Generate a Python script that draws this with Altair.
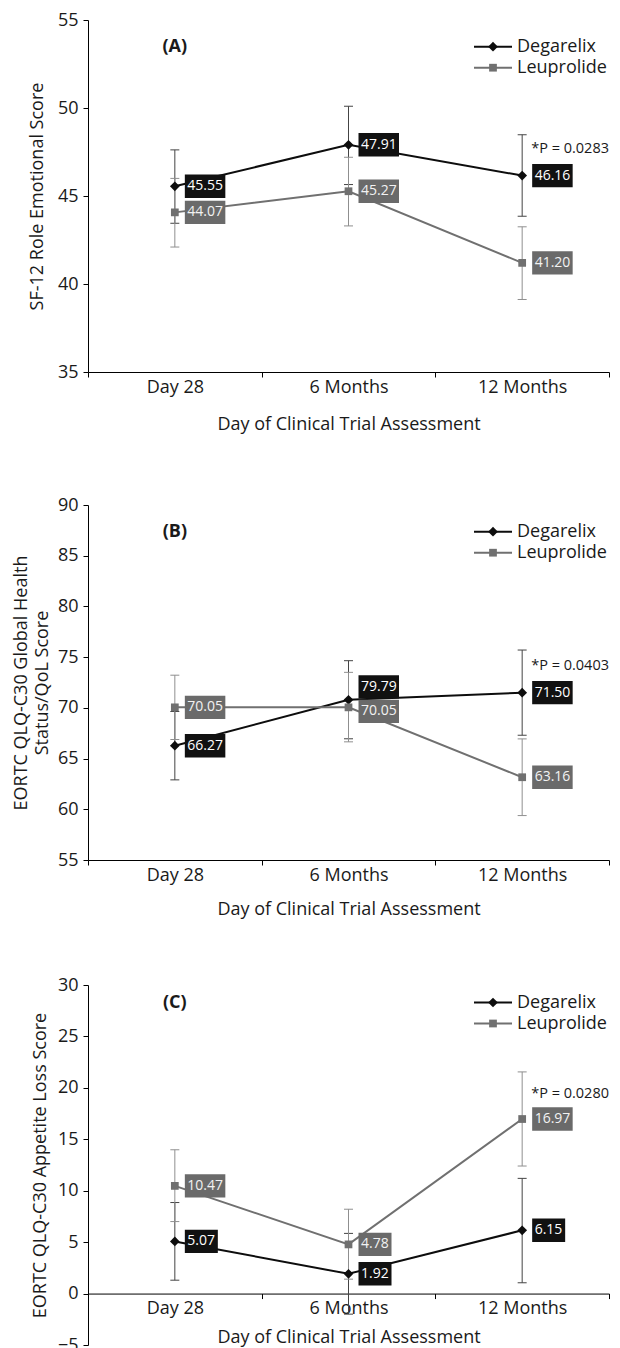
import altair as alt
import pandas as pd

FONT = "Open Sans"

categories = ["Day 28", "6 Months", "12 Months"]
series_names = ["Degarelix", "Leuprolide"]

# ---- Panel A : SF-12 Role Emotional Score
a_deg = [45.55, 47.91, 46.16]
a_deg_lo = [43.45, 45.65, 43.85]
a_deg_hi = [47.62, 50.10, 48.48]
a_deg_labels = ["45.55", "47.91", "46.16"]
a_leu = [44.07, 45.27, 41.20]
a_leu_lo = [42.10, 43.30, 39.12]
a_leu_hi = [46.00, 47.20, 43.25]
a_leu_labels = ["44.07", "45.27", "41.20"]
a_pvalue = "*P = 0.0283"
a_pvalue_at = 47.65

# ---- Panel B : EORTC QLQ-C30 Global Health Status/QoL Score
b_deg = [66.27, 70.79, 71.50]
b_deg_lo = [62.90, 66.95, 67.30]
b_deg_hi = [69.64, 74.65, 75.70]
b_deg_labels = ["66.27", "79.79", "71.50"]
b_leu = [70.05, 70.05, 63.16]
b_leu_lo = [66.88, 66.65, 59.38]
b_leu_hi = [73.22, 73.50, 66.94]
b_leu_labels = ["70.05", "70.05", "63.16"]
b_pvalue = "*P = 0.0403"
b_pvalue_at = 74.1

# ---- Panel C : EORTC QLQ-C30 Appetite Loss Score
c_deg = [5.07, 1.92, 6.15]
c_deg_lo = [1.30, -2.00, 1.05]
c_deg_hi = [8.85, 5.85, 11.20]
c_deg_labels = ["5.07", "1.92", "6.15"]
c_leu = [10.47, 4.78, 16.97]
c_leu_lo = [7.00, 1.40, 12.40]
c_leu_hi = [13.98, 8.20, 21.55]
c_leu_labels = ["10.47", "4.78", "16.97"]
c_pvalue = "*P = 0.0280"
c_pvalue_at = 19.4

# ---- styles
STYLE = {
    "Degarelix": dict(line="#0d0d0d", err="#444444", box="#111111", text="#ffffff",
                      shape="diamond", size=95),
    "Leuprolide": dict(line="#707070", err="#8f8f8f", box="#6a6a6a", text="#f2f2f2",
                       shape="square", size=60),
}
AXIS_COLOR = "#000000"
TEXT_COLOR = "#1a1a1a"
WIDTH = 521
# label box paths (1 unit = 50 px with size 10000)
BOX_PATHS = {"n4": "M0.2,-0.234H0.86V0.234H0.2Z", "n5": "M0.2,-0.234H1.01V0.234H0.2Z"}


def frame(deg, deg_lo, deg_hi, deg_lab, leu, leu_lo, leu_hi, leu_lab):
    rows = []
    for s, v, lo, hi, lab in [("Degarelix", deg, deg_lo, deg_hi, deg_lab),
                              ("Leuprolide", leu, leu_lo, leu_hi, leu_lab)]:
        for i, c in enumerate(categories):
            rows.append(dict(cat=c, idx=i, series=s, value=v[i], lo=lo[i], hi=hi[i], label=lab[i]))
    return pd.DataFrame(rows)


def panel(df, ymin, ymax, step, height, ytitle, title_x, letter, top_dy, pval, pval_at,
          xoffset=0, title_y=47, nudges=None):
    nudges = nudges or {}
    xscale = alt.Scale(type="band", domain=categories, paddingInner=0, paddingOuter=0)
    yscale = alt.Scale(domain=[ymin, ymax], nice=False, zero=False)
    xaxis = alt.Axis(title="Day of Clinical Trial Assessment", tickBand="extent", labelAngle=0,
                     grid=False, tickSize=5, labelPadding=1, offset=xoffset,
                     titleY=title_y, titleBaseline="middle")
    yaxis = alt.Axis(title=ytitle, values=list(range(ymin, ymax + 1, step)), grid=False,
                     tickSize=5, labelPadding=5, titleX=title_x, titleY=height / 2,
                     titleAngle=270, titleBaseline="middle", titleAlign="center",
                     titleLineHeight=21)

    def X():
        return alt.X("cat:N", scale=xscale, axis=xaxis, sort=categories)

    def Y(field):
        return alt.Y(field + ":Q", scale=yscale, axis=yaxis)

    base = alt.Chart(df)
    layers = []
    for s in series_names:
        st = STYLE[s]
        d = base.transform_filter(alt.datum.series == s)
        layers.append(d.mark_rule(strokeWidth=1, color=st["err"]).encode(
            x=X(), y=Y("lo"), y2="hi:Q"))
        for f in ["lo", "hi"]:
            layers.append(d.mark_point(shape="M-1,0H1", size=81, filled=False, strokeWidth=1,
                                       color=st["err"], opacity=1).encode(x=X(), y=Y(f)))
    for s in series_names:
        st = STYLE[s]
        d = base.transform_filter(alt.datum.series == s)
        layers.append(d.mark_line(strokeWidth=2, color=st["line"]).encode(
            x=X(), y=Y("value"), order="idx:Q"))
        layers.append(d.mark_point(shape=st["shape"], size=st["size"], filled=True,
                                   color=st["line"], opacity=1).encode(x=X(), y=Y("value")))
    for s in series_names:
        st = STYLE[s]
        for c in categories:
            dy = nudges.get((s, c), 0)
            d = base.transform_filter((alt.datum.series == s) & (alt.datum.cat == c)) \
                .transform_calculate(nch="'n' + length(datum.label)")
            layers.append(d.mark_point(filled=True, opacity=1, size=10000, strokeWidth=0,
                                       color=st["box"], yOffset=dy).encode(
                x=X(), y=Y("value"),
                shape=alt.Shape("nch:N", scale=alt.Scale(domain=list(BOX_PATHS.keys()),
                                                         range=list(BOX_PATHS.values())),
                                legend=None)))
            layers.append(d.mark_text(align="left", baseline="middle", dx=12.5, dy=dy,
                                      fontSize=14, font=FONT, color=st["text"]).encode(
                x=X(), y=Y("value"), text="label:N"))

    # p-value annotation
    pdat = alt.Chart(pd.DataFrame({"cat": ["12 Months"], "value": [pval_at], "t": [pval]}))
    layers.append(pdat.mark_text(align="left", baseline="middle", dx=9, fontSize=14.5,
                                 font=FONT, color=TEXT_COLOR).encode(
        x=X(), y=Y("value"), text="t:N"))
    # panel letter
    ldat = alt.Chart(pd.DataFrame({"cat": ["Day 28"], "t": [letter]}))
    layers.append(ldat.mark_text(align="center", baseline="middle", fontSize=18,
                                 fontWeight="bold", font=FONT, color=TEXT_COLOR).encode(
        x=X(), y=alt.value(top_dy), text="t:N"))
    # legend
    for i, s in enumerate(series_names):
        st = STYLE[s]
        ly = top_dy + 21 * i
        g = alt.Chart(pd.DataFrame({"series": [s]}))
        layers.append(g.mark_rule(strokeWidth=2, color=st["line"]).encode(
            x=alt.value(WIDTH - 135), x2=alt.value(WIDTH - 97), y=alt.value(ly)))
        layers.append(g.mark_point(shape=st["shape"], size=st["size"], filled=True,
                                   color=st["line"], opacity=1).encode(
            x=alt.value(WIDTH - 116), y=alt.value(ly)))
        layers.append(g.mark_text(align="left", baseline="middle", fontSize=18, font=FONT,
                                  color=TEXT_COLOR).encode(
            x=alt.value(WIDTH - 92), y=alt.value(ly), text="series:N"))

    return alt.layer(*layers).properties(width=WIDTH, height=height)


dfA = frame(a_deg, a_deg_lo, a_deg_hi, a_deg_labels, a_leu, a_leu_lo, a_leu_hi, a_leu_labels)
dfB = frame(b_deg, b_deg_lo, b_deg_hi, b_deg_labels, b_leu, b_leu_lo, b_leu_hi, b_leu_labels)
dfC = frame(c_deg, c_deg_lo, c_deg_hi, c_deg_labels, c_leu, c_leu_lo, c_leu_hi, c_leu_labels)

pA = panel(dfA, 35, 55, 5, 352, "SF-12 Role Emotional Score", -51, "(A)", 26.7,
           a_pvalue, a_pvalue_at, title_y=52)
pB = panel(dfB, 55, 90, 5, 355, ["EORTC QLQ-C30 Global Health", "Status/QoL Score"], -67,
           "(B)", 26.7, b_pvalue, b_pvalue_at, title_y=49,
           nudges={("Degarelix", "6 Months"): -13, ("Leuprolide", "6 Months"): 4})
pC = panel(dfC, -5, 30, 5, 360, "EORTC QLQ-C30 Appetite Loss Score", -48, "(C)", 17.5,
           c_pvalue, c_pvalue_at, xoffset=-360 * 5 / 35, title_y=44)

chart = alt.vconcat(pA, alt.vconcat(pB, pC, spacing=58), spacing=63).properties(
    padding={"left": 4, "top": 3, "right": 0, "bottom": 0}
).configure_view(stroke=None).configure_axis(
    labelFont=FONT, titleFont=FONT, labelFontSize=18, titleFontSize=18,
    labelColor=TEXT_COLOR, titleColor=TEXT_COLOR, titleFontWeight="normal",
    domainColor=AXIS_COLOR, tickColor=AXIS_COLOR, domainWidth=1, tickWidth=1
)

chart.save("out.html", embed_options={"renderer": "svg", "actions": False})
